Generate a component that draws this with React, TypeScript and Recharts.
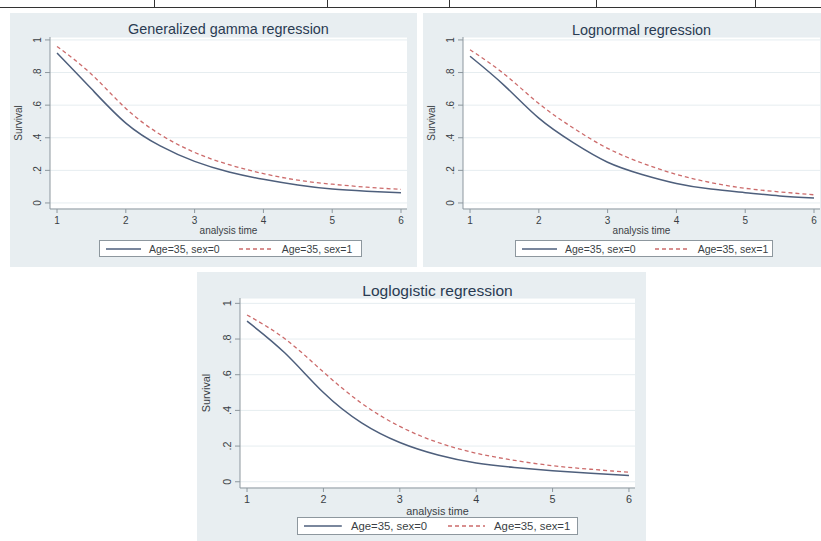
import { CartesianGrid, Legend, Line, LineChart, XAxis, YAxis } from 'recharts';

const times = [1, 1.5, 2, 2.5, 3, 3.5, 4, 4.5, 5, 5.5, 6];

const gammaSex0 = [0.92, 0.7, 0.49, 0.35, 0.255, 0.19, 0.145, 0.11, 0.085, 0.072, 0.062];
const gammaSex1 = [0.96, 0.79, 0.58, 0.42, 0.31, 0.235, 0.18, 0.14, 0.115, 0.097, 0.083];
const lognormalSex0 = [0.9, 0.72, 0.52, 0.37, 0.25, 0.175, 0.12, 0.085, 0.063, 0.043, 0.03];
const lognormalSex1 = [0.94, 0.79, 0.61, 0.46, 0.335, 0.245, 0.175, 0.125, 0.09, 0.068, 0.05];
const loglogSex0 = [0.9, 0.72, 0.5, 0.33, 0.22, 0.15, 0.105, 0.08, 0.062, 0.047, 0.035];
const loglogSex1 = [0.935, 0.8, 0.615, 0.44, 0.31, 0.22, 0.16, 0.12, 0.09, 0.07, 0.053];

const xTicks = [1, 2, 3, 4, 5, 6];
const yTicks = [0, 0.2, 0.4, 0.6, 0.8, 1];
const seriesNames = ['Age=35, sex=0', 'Age=35, sex=1'];

const FONT = '"Liberation Sans", Arial, sans-serif';
const NAVY = '#4e5f7c';
const RED = '#cc6b6b';
const AXIS = '#8d979e';
const TEXT = '#3a3f45';

const fmt = (v: number) => (v === 0 ? '0' : v === 1 ? '1' : String(v).replace(/^0/, ''));

const toRows = (s0: number[], s1: number[]) =>
  times.map((t, i) => ({ t, s0: s0[i], s1: s1[i] }));

interface PanelProps {
  title: string;
  rows: { t: number; s0: number; s1: number }[];
  left: number;
  top: number;
  width: number;
  height: number;
  s: number;
  titleY: number;
  legendLeft: number;
  legendWidth: number;
}

const Panel = ({ title, rows, left, top, width, height, s, titleY, legendLeft, legendWidth }: PanelProps) => {
  const yW = Math.round(40 * s);
  const mTop = Math.round(24 * s);
  const mRight = Math.round(10 * s);
  const mBottom = s > 1 ? 17 : 10;
  const legendH = Math.round(17 * s);
  const xH = s > 1 ? 29 : 31;
  const fs = 10 * s;

  const renderLegend = (props: any) => (
    <div
      style={{
        height: legendH,
        boxSizing: 'border-box',
        border: `1px solid ${AXIS}`,
        background: '#fff',
        display: 'flex',
        alignItems: 'center',
        fontFamily: FONT,
        fontSize: 10.5 * s,
        color: TEXT,
        paddingLeft: 6 * s,
        whiteSpace: 'nowrap',
      }}
    >
      {(props.payload || []).map((entry: any, i: number) => (
        <span key={entry.value} style={{ display: 'flex', alignItems: 'center', marginLeft: i ? 19 * s : 0 }}>
          <svg width={35 * s} height={4}>
            <line
              x1={0}
              y1={2}
              x2={35 * s}
              y2={2}
              stroke={entry.color}
              strokeWidth={1.4}
              strokeDasharray={entry.payload?.strokeDasharray}
            />
          </svg>
          <span style={{ marginLeft: 8 * s }}>{entry.value}</span>
        </span>
      ))}
    </div>
  );

  return (
    <div
      style={{
        position: 'absolute',
        left,
        top,
        width,
        height,
        background: '#e8eef1',
      }}
    >
      <LineChart width={width} height={height} data={rows} margin={{ top: mTop, right: mRight, bottom: mBottom, left: 0 }}>
        <CartesianGrid vertical={false} stroke="#e6edf0" fill="#ffffff" />
        <XAxis
          dataKey="t"
          type="number"
          domain={s > 1 ? [0.908, 6.079] : [0.898, 6.087]}
          ticks={xTicks}
          allowDataOverflow
          height={xH}
          tickSize={4}
          tickMargin={s > 1 ? 3 : 4}
          stroke={AXIS}
          tick={{ fill: TEXT, fontSize: fs, fontFamily: FONT }}
          label={(p: any) => {
            const vb = p.viewBox;
            return (
              <text
                x={vb.x + vb.width / 2}
                y={vb.y + 21 * s}
                textAnchor="middle"
                dominantBaseline="central"
                fontSize={fs}
                fontFamily={FONT}
                fill={TEXT}
              >
                analysis time
              </text>
            );
          }}
        />
        <YAxis
          type="number"
          domain={s > 1 ? [-0.035, 1.03] : [-0.037, 1.018]}
          ticks={yTicks}
          allowDataOverflow
          width={yW}
          tickSize={5}
          tickMargin={Math.round(12 * s) - 5}
          stroke={AXIS}
          tick={(p: any) => (
            <text
              x={p.x}
              y={p.y}
              transform={`rotate(-90 ${p.x} ${p.y})`}
              textAnchor="middle"
              dominantBaseline="central"
              fontSize={fs}
              fontFamily={FONT}
              fill={TEXT}
            >
              {fmt(p.payload.value)}
            </text>
          )}
          label={(p: any) => {
            const vb = p.viewBox;
            const cx = vb.x + 8 * s;
            const cy = vb.y + vb.height / 2;
            return (
              <text
                x={cx}
                y={cy}
                transform={`rotate(-90 ${cx} ${cy})`}
                textAnchor="middle"
                dominantBaseline="central"
                fontSize={fs}
                fontFamily={FONT}
                fill={TEXT}
              >
                Survival
              </text>
            );
          }}
        />
        <Legend
          verticalAlign="bottom"
          content={renderLegend}
          wrapperStyle={{ left: legendLeft, width: legendWidth }}
        />
        <Line
          type="natural"
          dataKey="s0"
          name={seriesNames[0]}
          stroke={NAVY}
          strokeWidth={1.5}
          dot={false}
          isAnimationActive={false}
        />
        <Line
          type="natural"
          dataKey="s1"
          name={seriesNames[1]}
          stroke={RED}
          strokeWidth={1.3}
          strokeDasharray="4 3"
          dot={false}
          isAnimationActive={false}
        />
      </LineChart>
      <div
        style={{
          position: 'absolute',
          zIndex: 2,
          left: yW,
          width: width - yW - mRight,
          top: titleY - 10 * s,
          height: 20 * s,
          lineHeight: `${20 * s}px`,
          textAlign: 'center',
          fontFamily: FONT,
          fontSize: 14.4 * s,
          color: '#2a3b52',
          pointerEvents: 'none',
        }}
      >
        {title}
      </div>
    </div>
  );
};

export default function App() {
  const tableCols = [154, 327, 449, 596, 755];
  return (
    <div
      style={{
        position: 'absolute',
        left: 0,
        top: 0,
        width: 821,
        height: 541,
        overflow: 'hidden',
        background: '#ffffff',
      }}
    >
      <div style={{ position: 'absolute', left: 0, top: 7, width: 821, height: 1, background: '#333' }} />
      {tableCols.map((x) => (
        <div key={x} style={{ position: 'absolute', left: x, top: 0, width: 1, height: 8, background: '#333' }} />
      ))}
      <Panel
        title="Generalized gamma regression"
        rows={toRows(gammaSex0, gammaSex1)}
        left={10}
        top={13}
        width={407}
        height={254}
        s={1}
        titleY={16}
        legendLeft={89}
        legendWidth={263}
      />
      <Panel
        title="Lognormal regression"
        rows={toRows(lognormalSex0, lognormalSex1)}
        left={423}
        top={13}
        width={407}
        height={254}
        s={1}
        titleY={17}
        legendLeft={92}
        legendWidth={258}
      />
      <Panel
        title="Loglogistic regression"
        rows={toRows(loglogSex0, loglogSex1)}
        left={197}
        top={272}
        width={449}
        height={280}
        s={1.08}
        titleY={19}
        legendLeft={100}
        legendWidth={281}
      />
    </div>
  );
}
